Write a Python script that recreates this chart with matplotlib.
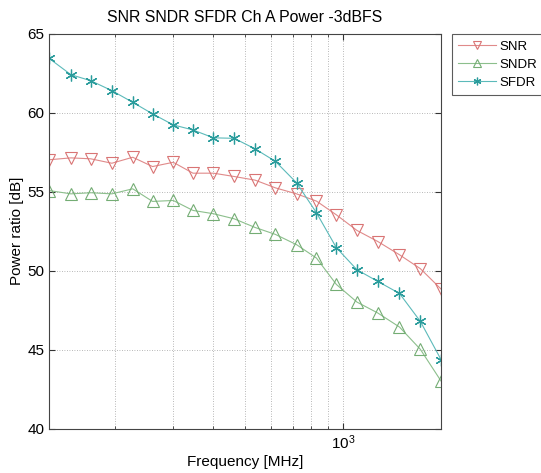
import matplotlib
matplotlib.use("Agg")
import matplotlib.pyplot as plt
from matplotlib.ticker import FixedLocator, NullFormatter, LogFormatterSciNotation

plt.rcParams['font.family'] = ['Liberation Sans', 'DejaVu Sans']

# frequencies in MHz
freq = [125, 146, 168, 195, 226, 260, 301, 346, 400, 463,
        537, 620, 720, 829, 954, 1104, 1279, 1491, 1728, 2000]

snr = [57.03, 57.15, 57.09, 56.81, 57.19, 56.60, 56.87, 56.18, 56.18, 55.97,
       55.74, 55.25, 54.87, 54.41, 53.54, 52.55, 51.85, 51.01, 50.13, 48.84]
sndr = [55.08, 54.87, 54.94, 54.87, 55.19, 54.39, 54.45, 53.82, 53.61, 53.29,
        52.74, 52.30, 51.65, 50.80, 49.13, 48.01, 47.32, 46.43, 45.02, 43.01]
sfdr = [63.46, 62.42, 62.04, 61.41, 60.67, 59.94, 59.24, 58.92, 58.42, 58.39,
        57.72, 56.93, 55.57, 53.67, 51.46, 50.06, 49.32, 48.56, 46.79, 44.37]

W, H = 541, 473
fig = plt.figure(figsize=(W / 100, H / 100), dpi=100)
ax = fig.add_axes([49 / W, 1 - 428.5 / H, (441 - 49) / W, (428.5 - 34) / H])

ax.plot(freq, snr, color='#e08a8a', lw=0.8, marker='v', ms=8.5, mfc='none',
        mec='#d97474', mew=0.8, label='SNR')
ax.plot(freq, sndr, color='#8cbf8c', lw=0.8, marker='^', ms=8.5, mfc='none',
        mec='#74ad74', mew=0.8, label='SNDR')
ax.plot(freq, sfdr, color='#5cbaba', lw=0.8, marker=(6, 2, 0), ms=8.5,
        mec='#2a9c9c', mew=0.9, label='SFDR')

ax.set_xscale('log')
ax.set_xlim(125, 2000)
ax.set_ylim(40, 65)
ax.set_yticks([40, 45, 50, 55, 60, 65])
ax.xaxis.set_major_locator(FixedLocator([1000]))
ax.xaxis.set_major_formatter(LogFormatterSciNotation())
ax.xaxis.set_minor_locator(FixedLocator([200, 300, 400, 500, 600, 700, 800, 900, 2000]))
ax.xaxis.set_minor_formatter(NullFormatter())
ax.grid(True, which='both', linestyle=(0, (1, 2)), color='#a0a0a0', lw=0.6)
ax.tick_params(which='both', direction='in', labelsize=11, top=True, right=True,
               length=4, color='#333333')
ax.tick_params(which='minor', length=2)
for s in ax.spines.values():
    s.set_color('#444444')
    s.set_linewidth(0.8)

ax.set_title('SNR SNDR SFDR Ch A Power -3dBFS', fontsize=11.4, pad=9)
ax.set_xlabel('Frequency [MHz]', fontsize=11, labelpad=2)
ax.set_ylabel('Power ratio [dB]', fontsize=11, labelpad=2)

leg = ax.legend(loc='upper left', bbox_to_anchor=(452 / W, 1 - 34.5 / H),
                bbox_transform=fig.transFigure, fontsize=9.5, fancybox=False,
                frameon=True, borderaxespad=0, handlelength=2.9, markerscale=0.65,
                handletextpad=0.25, borderpad=0.45, labelspacing=0.45)
leg.get_frame().set_edgecolor('#333333')
leg.get_frame().set_linewidth(0.8)

fig.savefig('out.png', dpi=100)
